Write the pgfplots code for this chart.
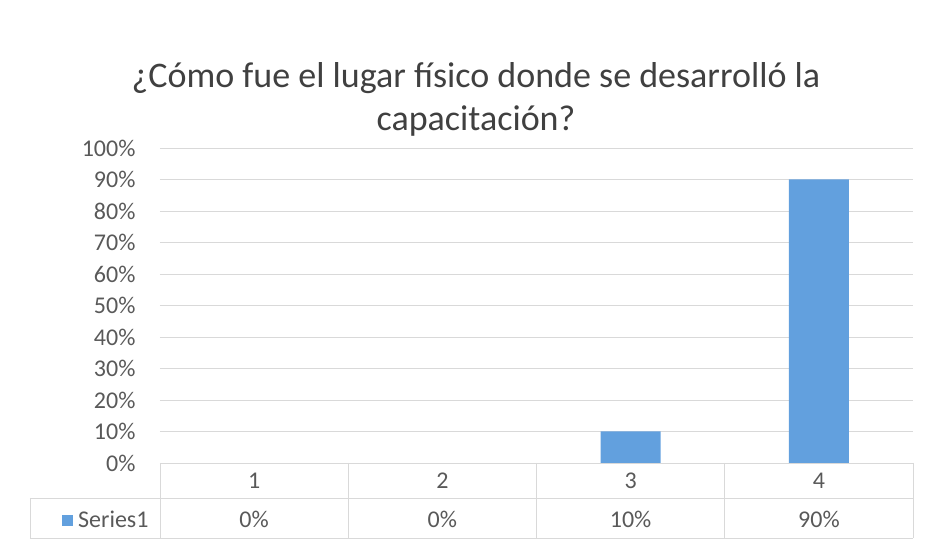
\documentclass[border=0pt]{standalone}
\usepackage{pgfplots}
\pgfplotsset{compat=1.18}
\usepackage{fontspec}
\setmainfont{Carlito}
\definecolor{barblue}{RGB}{98,160,222}
\definecolor{txt}{RGB}{89,89,89}
\definecolor{ttl}{RGB}{64,64,64}
\definecolor{gridc}{RGB}{217,217,217}
\begin{document}
\begin{tikzpicture}[x=1bp,y=1bp]
\path[use as bounding box] (-160,-86) rectangle (773,463);
\begin{axis}[
  at={(0,0)}, anchor=south west,
  scale only axis, width=753bp, height=315bp,
  xmin=0.5, xmax=4.5, ymin=0, ymax=100,
  axis line style={draw=none},
  tick style={draw=none},
  xtick=\empty,
  ytick={0,10,...,100},
  ymajorgrids, grid style={gridc, line width=0.8bp},
  yticklabel={\pgfmathprintnumber{\tick}\%},
  /pgf/number format/assume math mode=true,
  yticklabel style={font=\fontsize{24bp}{28bp}\selectfont, text=txt, anchor=east, xshift=-21bp},
  clip=false,
]
\addplot[ybar, bar width=60bp, fill=barblue, draw=none] coordinates {(3,10) (4,90)};
\end{axis}
% data table
\draw[gridc, line width=0.8bp] (-130,-35) -- (753,-35);
\draw[gridc, line width=0.8bp] (-130,-75) -- (753,-75);
\draw[gridc, line width=0.8bp] (-130,-35) -- (-130,-75);
\foreach \xx in {0,188.25,376.5,564.75,753} {\draw[gridc, line width=0.8bp] (\xx,0) -- (\xx,-75);}
\begin{scope}[every node/.style={font=\fontsize{24bp}{28bp}\selectfont, text=txt}]
\node at (94.1,-18) {1};
\node at (282.4,-18) {2};
\node at (470.6,-18) {3};
\node at (658.9,-18) {4};
\node at (94.1,-56) {0\%};
\node at (282.4,-56) {0\%};
\node at (470.6,-56) {10\%};
\node at (658.9,-56) {90\%};
\fill[barblue] (-98,-63) rectangle (-87,-52);
\node[anchor=west, inner sep=0pt] at (-82,-56) {Series1};
\end{scope}
% title
\node[font=\fontsize{36bp}{42bp}\selectfont, text=ttl] at (316,385) {¿Cómo fue el lugar físico donde se desarrolló la};
\node[font=\fontsize{36bp}{42bp}\selectfont, text=ttl] at (316,342) {capacitación?};
\end{tikzpicture}
\end{document}
